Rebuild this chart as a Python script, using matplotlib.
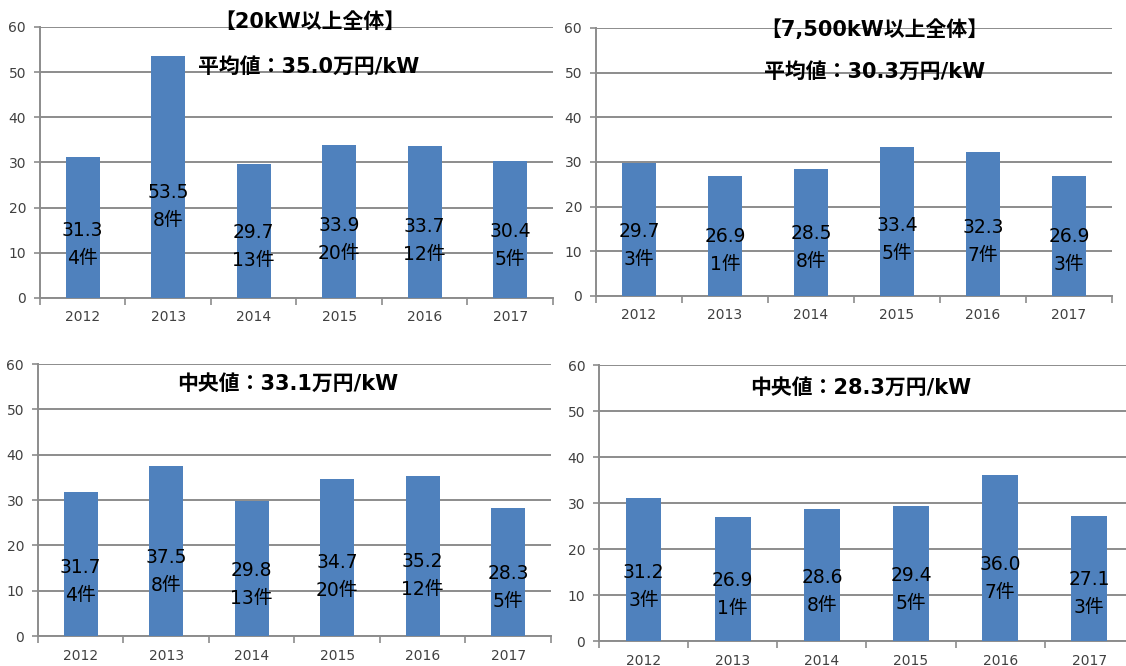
import matplotlib
matplotlib.use("Agg")
import matplotlib.pyplot as plt

plt.rcParams['font.family'] = ['DejaVu Sans', 'Noto Sans CJK JP']

years = ['2012', '2013', '2014', '2015', '2016', '2017']

# 20kW以上全体
avg_20kw = [31.3, 53.5, 29.7, 33.9, 33.7, 30.4]
med_20kw = [31.7, 37.5, 29.8, 34.7, 35.2, 28.3]
count_20kw = [4, 8, 13, 20, 12, 5]

# 7,500kW以上全体
avg_7500kw = [29.7, 26.9, 28.5, 33.4, 32.3, 26.9]
med_7500kw = [31.2, 26.9, 28.6, 29.4, 36.0, 27.1]
count_7500kw = [3, 1, 8, 5, 7, 3]

titles_top = ['【20kW以上全体】', '【7,500kW以上全体】']
subtitles = ['平均値：35.0万円/kW', '平均値：30.3万円/kW',
             '中央値：33.1万円/kW', '中央値：28.3万円/kW']

BAR = '#4F81BD'
GRID = '#8c8c8c'


def draw_panel(ax, values, counts):
    x = range(len(years))
    ax.bar(x, values, width=0.4, color=BAR, zorder=3)
    ax.set_ylim(0, 60)
    ax.set_xlim(-0.5, len(years) - 0.5)
    ax.set_yticks(range(0, 61, 10))
    ax.yaxis.grid(True, color=GRID, linewidth=1.4, zorder=0)
    # category ticks sit between bars like Excel
    ax.set_xticks([i - 0.5 for i in range(len(years) + 1)])
    ax.set_xticklabels([])
    ax.set_xticks(list(x), minor=True)
    ax.set_xticklabels(years, minor=True)
    ax.tick_params(axis='x', which='minor', length=0, pad=9,
                   labelsize=10, labelcolor='#404040')
    ax.tick_params(axis='x', which='major', length=5, color=GRID, width=1.2)
    ax.tick_params(axis='y', length=4, color=GRID, width=1.2,
                   labelsize=10, labelcolor='#404040', pad=6)
    for s in ['top', 'right']:
        ax.spines[s].set_visible(False)
    for s in ['left', 'bottom']:
        ax.spines[s].set_color(GRID)
        ax.spines[s].set_linewidth(1.4)
    for i, v in enumerate(values):
        ax.text(i, v * 0.38, '%.1f\n%d件' % (v, counts[i]), ha='center',
                va='center', fontsize=13.5, color='black', zorder=4,
                linespacing=1.6)


fig = plt.figure(figsize=(11.26, 6.66), dpi=100)

ax1 = fig.add_axes([0.0355, 0.5526, 0.4556, 0.4069])
ax2 = fig.add_axes([0.5293, 0.5556, 0.4583, 0.4024])
ax3 = fig.add_axes([0.0337, 0.0450, 0.4556, 0.4084])
ax4 = fig.add_axes([0.5320, 0.0375, 0.4750, 0.4144])

draw_panel(ax1, avg_20kw, count_20kw)
draw_panel(ax2, avg_7500kw, count_7500kw)
draw_panel(ax3, med_20kw, count_20kw)
draw_panel(ax4, med_7500kw, count_7500kw)

tkw = dict(ha='center', va='center', fontsize=15, fontweight='bold', zorder=5)
ax1.text(0.526, 1.02, titles_top[0], transform=ax1.transAxes, **tkw)
ax1.text(0.524, 0.852, subtitles[0], transform=ax1.transAxes, **tkw)
ax2.text(0.539, 0.995, titles_top[1], transform=ax2.transAxes, **tkw)
ax2.text(0.539, 0.836, subtitles[1], transform=ax2.transAxes, **tkw)
ax3.text(0.487, 0.926, subtitles[2], transform=ax3.transAxes, **tkw)
ax4.text(0.49, 0.917, subtitles[3], transform=ax4.transAxes, **tkw)

fig.savefig('out.png', dpi=100)
